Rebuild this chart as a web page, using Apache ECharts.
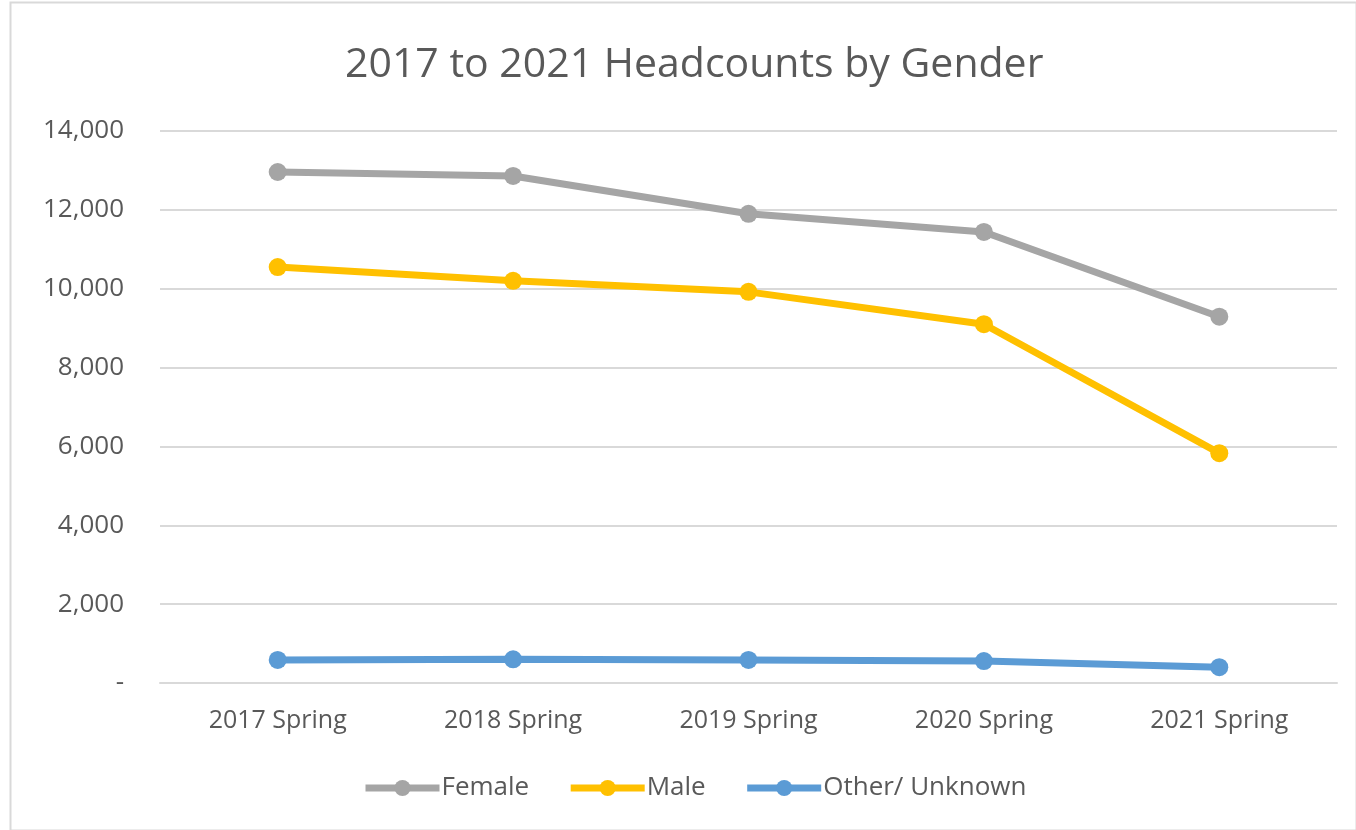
<!DOCTYPE html>
<html><head><meta charset="utf-8">
<script src="https://cdn.jsdelivr.net/npm/echarts@6/dist/echarts.min.js"></script>
<style>html,body{margin:0;padding:0;background:#fff}#c{width:1356px;height:830px}</style>
</head><body><div id="c"></div>
<script>
const categories = ['2017 Spring','2018 Spring','2019 Spring','2020 Spring','2021 Spring'];
const female = [12960, 12860, 11900, 11440, 9290];
const male = [10550, 10200, 9920, 9100, 5830];
const other = [585, 600, 585, 555, 400];
const seriesNames = ['Female','Male','Other/ Unknown'];
const colors = ['#A5A5A5','#FFC000','#5B9BD5'];

const font = "'Open Sans', 'Liberation Sans', sans-serif";
const chart = echarts.init(document.getElementById('c'));
const mk = (name, data, color) => ({
  name, type: 'line', data, color,
  symbol: 'circle', symbolSize: 18,
  lineStyle: { width: 7, color },
  itemStyle: { color },
  animation: false
});
chart.setOption({
  animation: false,
  textStyle: { fontFamily: font },
  title: {
    text: '2017 to 2021 Headcounts by Gender',
    left: 340, top: 40,
    textStyle: { fontSize: 41, fontWeight: 'normal', color: '#595959', fontFamily: font }
  },
  graphic: [{
    type: 'rect', left: 8, top: 0, shape: { width: 1346, height: 828 },
    style: { fill: 'none', stroke: '#d9d9d9', lineWidth: 2 }, silent: true
  }],
  legend: {
    data: seriesNames, bottom: 24, left: 357,
    itemWidth: 74, itemHeight: 20, itemGap: 38,
    lineStyle: { width: 7 },
    textStyle: { fontSize: 26, color: '#595959', fontFamily: font, padding: [0,0,0,-3] }
  },
  grid: { left: 160, right: 19, top: 131, bottom: 147 },
  xAxis: {
    type: 'category', data: categories, boundaryGap: true,
    axisLine: { show: true, lineStyle: { color: '#d9d9d9', width: 2 } },
    axisTick: { show: false },
    axisLabel: { fontSize: 25, color: '#595959', margin: 25, fontFamily: font }
  },
  yAxis: {
    type: 'value', min: 0, max: 14000, interval: 2000,
    axisLine: { show: false }, axisTick: { show: false },
    splitLine: { lineStyle: { color: '#d9d9d9', width: 2 } },
    axisLabel: {
      fontSize: 26, color: '#595959', margin: 36, fontFamily: font,
      formatter: v => v === 0 ? '-' : v.toLocaleString('en-US')
    }
  },
  series: [mk(seriesNames[0], female, colors[0]), mk(seriesNames[1], male, colors[1]), mk(seriesNames[2], other, colors[2])]
});
</script></body></html>
